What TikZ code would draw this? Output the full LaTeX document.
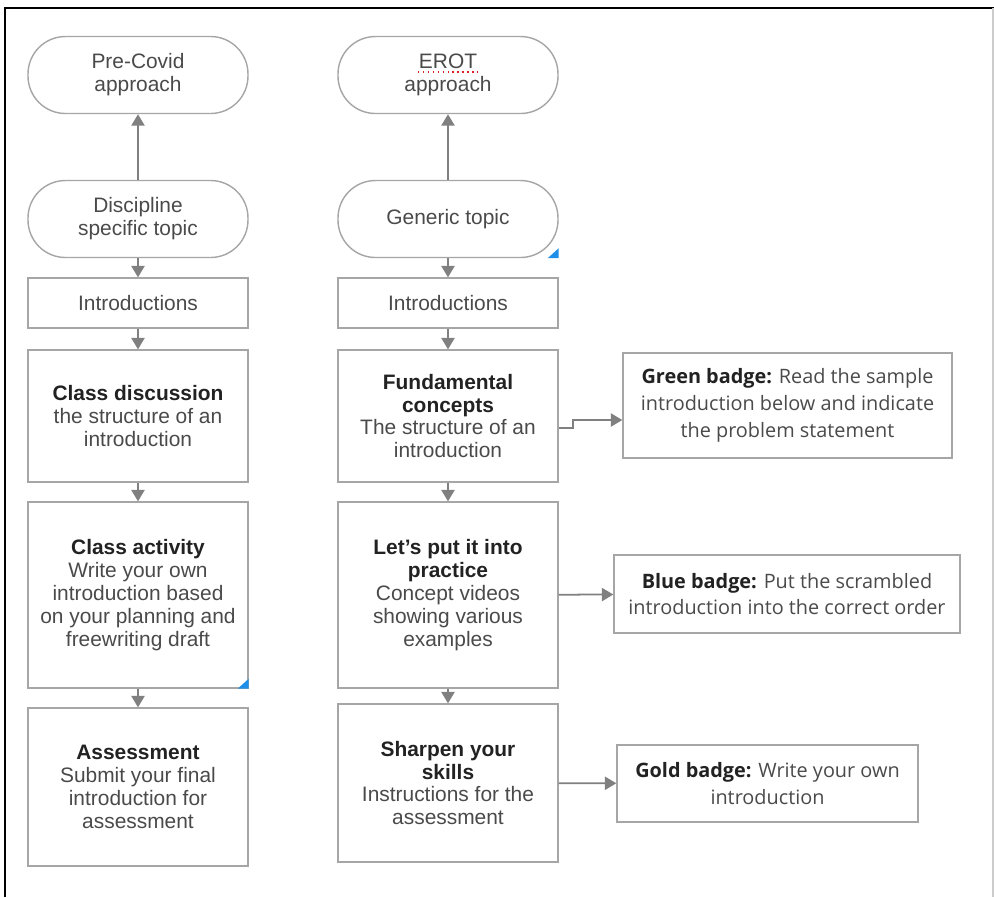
\documentclass[tikz,border=0pt]{standalone}
\usepackage{fontspec}
\setmainfont{Liberation Sans}
\newfontfamily\badgefont{Open Sans}
\usetikzlibrary{arrows.meta}
\usepackage{xcolor}
\definecolor{boxgray}{HTML}{A6A6A6}
\definecolor{arrowgray}{HTML}{808080}
\definecolor{txtgray}{HTML}{4A4A4A}
\definecolor{txtdark}{HTML}{222222}
\definecolor{markblue}{HTML}{1E8FE8}
\definecolor{spellred}{HTML}{E02020}
\newcommand{\hd}[1]{{\color{txtdark}\bfseries #1}}

\tikzset{
  stepbox/.style={draw=boxgray, line width=0.8pt, fill=white, minimum width=4.4cm,
    align=center, text=txtgray, font=\fontsize{11.9}{13}\selectfont},
  endbox/.style={stepbox, rounded corners=0.75cm, minimum height=1.54cm},
  badgebox/.style={draw=boxgray, line width=0.8pt, fill=white, align=center,
    text=txtgray, font=\badgefont\fontsize{11.3}{15.3}\selectfont},
  flow/.style={->, draw=arrowgray, line width=1pt}
}

\begin{document}
\begin{tikzpicture}[>={Triangle[width=7.5pt,length=6.5pt]}]
  \useasboundingbox (0,0) rectangle (19.88,-17.94);

  % page frame
  \draw [line width=1.1pt] (0.1,-17.94) -- (0.1,-0.16) -- (19.88,-0.16);
  \draw [black!20, line width=0.8pt] (19.86,-0.16) -- (19.86,-17.94);

  % pre-covid column
  \node [endbox] (precovid) at (2.76,-1.5) {Pre-Covid\\approach};
  \node [endbox] (discipline) at (2.76,-4.38) {Discipline\\specific topic};
  \node [stepbox, minimum height=1cm] (introl) at (2.76,-6.06) {Introductions};
  \node [stepbox, minimum height=2.64cm] (discussion) at (2.76,-8.32)
  {\hd{Class discussion}\\the structure of an\\introduction};
  \node [stepbox, minimum height=3.72cm] (activity) at (2.76,-11.9)
  {\hd{Class activity}\\Write your own\\introduction based\\on your planning and\\freewriting draft};
  \node [stepbox, minimum height=3.16cm] (assess) at (2.76,-15.74)
  {\hd{Assessment}\\Submit your final\\introduction for\\assessment};

  % erot column
  \node [endbox] (erot) at (8.96,-1.5) {EROT\\approach};
  \node [endbox] (generic) at (8.96,-4.38) {Generic topic};
  \node [stepbox, minimum height=1cm] (intror) at (8.96,-6.06) {Introductions};
  \node [stepbox, minimum height=2.64cm] (fund) at (8.96,-8.32)
  {\hd{Fundamental}\\\hd{concepts}\\The structure of an\\introduction};
  \node [stepbox, minimum height=3.72cm] (practice) at (8.96,-11.9)
  {\hd{Let's put it into}\\\hd{practice}\\Concept videos\\showing various\\examples};
  \node [stepbox, minimum height=3.16cm] (sharpen) at (8.96,-15.66)
  {\hd{Sharpen your}\\\hd{skills}\\Instructions for the\\assessment};

  % badges
  \node [badgebox, minimum width=6.58cm, minimum height=2.1cm] (green) at (15.75,-8.11)
  {\hd{Green badge:} Read the sample\\introduction below and indicate\\the problem statement};
  \node [badgebox, minimum width=6.92cm, minimum height=1.56cm] (blue) at (15.74,-11.88)
  {\hd{Blue badge:} Put the scrambled\\introduction into the correct order};
  \node [badgebox, minimum width=6.02cm, minimum height=1.54cm] (gold) at (15.35,-15.67)
  {\hd{Gold badge:} Write your own\\introduction};

  % spell-check mark and comment markers
  \draw [spellred, dotted, line width=0.8pt]
  ([xshift=-6mm,yshift=0.6mm]erot.center) -- ([xshift=6mm,yshift=0.6mm]erot.center);
  \fill [markblue] (generic.south east) -- ++(-0.22,0) -- ++(0.22,0.2) -- cycle;
  \fill [markblue] (activity.south east) -- ++(-0.22,0) -- ++(0.22,0.2) -- cycle;

  % flow
  \draw [flow] (discipline) -- (precovid);
  \draw [flow] (discipline) -- (introl);
  \draw [flow] (introl) -- (discussion);
  \draw [flow] (discussion) -- (activity);
  \draw [flow] (activity) -- (assess);

  \draw [flow] (generic) -- (erot);
  \draw [flow] (generic) -- (intror);
  \draw [flow] (intror) -- (fund);
  \draw [flow] (fund) -- (practice);
  \draw [flow] (practice) -- (sharpen);

  \draw [flow] ([yshift=-2.4mm]fund.east) -- ++(0.28,0) |- ([yshift=-2.9mm]green.west);
  \draw [flow] (practice) -- (blue);
  \draw [flow] (sharpen) -- (gold);
\end{tikzpicture}
\end{document}
